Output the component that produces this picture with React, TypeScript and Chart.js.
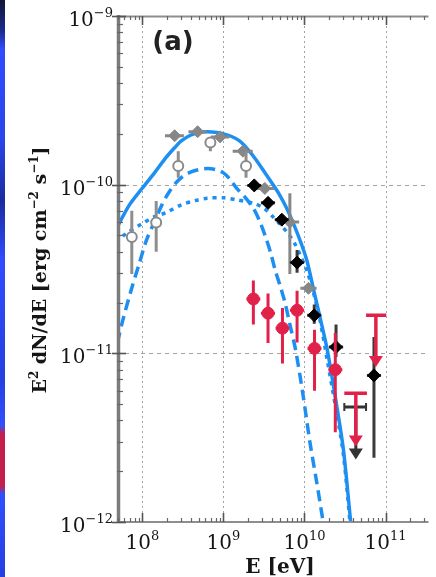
import React, { useEffect, useRef } from "react";
import { Chart, registerables } from "chart.js";

Chart.register(...registerables);

const BLUE = "#1e8ff2";
const RED = "#e2214b";
const GREY = "#878787";

const X_MIN = 4.86e7;
const X_MAX = 3.39e11;
const Y_MIN = 1e-12;
const Y_MAX = 1e-9;

const xTicks = [1e8, 1e9, 1e10, 1e11];
const xTickExp = ["8", "9", "10", "11"];
const yTicks = [1e-9, 1e-10, 1e-11, 1e-12];
const yTickExp = ["\u22129", "\u221210", "\u221211", "\u221212"];

// model curves (E in eV, E^2 dN/dE in erg cm^-2 s^-1)
const totalE = [4.9e7, 6.92e7, 1.0e8, 1.41e8, 1.95e8, 2.51e8, 3.02e8, 3.98e8, 5.01e8, 6.31e8, 8.32e8, 1.0e9, 1.26e9, 1.58e9, 2.0e9, 2.51e9, 3.16e9, 3.98e9, 4.79e9, 6.03e9, 7.59e9, 9.12e9, 1.07e10, 1.32e10, 1.58e10, 1.91e10, 2.4e10, 3.02e10, 3.72e10, 4.07e10];
const totalF = [5.62e-11, 7.59e-11, 9.55e-11, 1.175e-10, 1.445e-10, 1.66e-10, 1.82e-10, 1.97e-10, 2.04e-10, 2.06e-10, 2.04e-10, 2.0e-10, 1.93e-10, 1.82e-10, 1.62e-10, 1.41e-10, 1.2e-10, 1.02e-10, 8.9e-11, 7.24e-11, 5.62e-11, 4.47e-11, 3.55e-11, 2.29e-11, 1.58e-11, 1.05e-11, 5.5e-12, 2.69e-12, 1.0e-12, 7.1e-13];

const dashE = [4.9e7, 5.75e7, 7.41e7, 9.12e7, 1.12e8, 1.38e8, 1.74e8, 2.09e8, 2.57e8, 3.16e8, 3.98e8, 5.01e8, 6.31e8, 7.94e8, 1.0e9, 1.2e9, 1.45e9, 1.82e9, 2.34e9, 2.82e9, 3.31e9, 3.8e9, 4.37e9, 5.01e9, 5.75e9, 6.61e9, 7.76e9, 9.55e9, 1.17e10, 1.41e10, 1.7e10, 1.86e10];
const dashF = [1.15e-11, 1.58e-11, 2.45e-11, 3.39e-11, 4.68e-11, 5.89e-11, 7.59e-11, 8.9e-11, 1.02e-10, 1.12e-10, 1.19e-10, 1.23e-10, 1.245e-10, 1.23e-10, 1.175e-10, 1.08e-10, 9.55e-11, 8.5e-11, 7.24e-11, 6.03e-11, 4.9e-11, 3.98e-11, 3.09e-11, 2.51e-11, 2.0e-11, 1.48e-11, 1.05e-11, 5.75e-12, 2.95e-12, 1.74e-12, 1.0e-12, 7.6e-13];

const dotE = [4.68e7, 6.31e7, 1.0e8, 1.41e8, 1.95e8, 3.02e8, 4.47e8, 6.31e8, 1.02e9, 1.45e9, 2.34e9, 3.16e9, 4.07e9, 5.01e9, 6.31e9, 7.59e9, 8.91e9, 1.07e10, 1.26e10, 1.55e10, 1.91e10, 2.4e10, 3.02e10, 3.72e10];
const dotF = [4.57e-11, 5.13e-11, 5.89e-11, 6.46e-11, 6.82e-11, 7.59e-11, 8.04e-11, 8.32e-11, 8.36e-11, 8.13e-11, 7.76e-11, 7.24e-11, 6.46e-11, 5.82e-11, 5.13e-11, 4.47e-11, 3.8e-11, 3.09e-11, 2.4e-11, 1.58e-11, 9.1e-12, 4.9e-12, 2.51e-12, 8.9e-13];

// grey filled points
const greyE = [2.5e8, 4.8e8, 9.1e8, 1.74e9, 3.24e9, 6.6e9, 1.12e10];
const greyF = [1.95e-10, 2.06e-10, 1.92e-10, 1.58e-10, 9.5e-11, 6.0e-11, 2.43e-11];
const greyElo = [1.9e8, 3.7e8, 7.0e8, 1.3e9, 2.5e9, 5.2e9, 8.9e9];
const greyEhi = [3.25e8, 6.2e8, 1.18e9, 2.3e9, 4.2e9, 8.6e9, 1.41e10];
const greyFlo = [1.95e-10, 2.06e-10, 1.92e-10, 1.58e-10, 9.5e-11, 2.95e-11, 2.43e-11];
const greyFhi = [1.95e-10, 2.06e-10, 1.92e-10, 1.58e-10, 9.5e-11, 8.9e-11, 2.43e-11];

// open circles
const openE = [7.4e7, 1.48e8, 2.77e8, 6.9e8, 1.9e9];
const openF = [4.9e-11, 5.96e-11, 1.29e-10, 1.78e-10, 1.29e-10];
const openFlo = [2.95e-11, 4.0e-11, 1.1e-10, 1.58e-10, 1.1e-10];
const openFhi = [7.0e-11, 8.0e-11, 1.58e-10, 1.9e-10, 1.58e-10];

// black diamonds
const blackE = [2.4e9, 3.55e9, 5.25e9, 8.1e9, 1.32e10, 2.45e10, 7.2e10];
const blackF = [9.9e-11, 7.8e-11, 6.2e-11, 3.45e-11, 1.68e-11, 1.09e-11, 7.4e-12];
const blackElo = [1.97e9, 2.9e9, 4.3e9, 6.6e9, 1.08e10, 2.0e10, 5.9e10];
const blackEhi = [2.93e9, 4.33e9, 6.4e9, 9.9e9, 1.61e10, 3.0e10, 8.8e10];
const blackFlo = [9.4e-11, 7.4e-11, 5.8e-11, 3.0e-11, 1.5e-11, 9.5e-12, 2.4e-12];
const blackFhi = [1.04e-10, 8.2e-11, 6.6e-11, 4.1e-11, 1.95e-11, 1.48e-11, 1.25e-11];
const blackUlE = [4.3e10];
const blackUlF = [4.8e-12];
const blackUlTo = [2.35e-12];
const blackUlElo = [3.1e10];
const blackUlEhi = [5.75e10];

// red circles
const redE = [2.34e9, 3.55e9, 5.35e9, 8.1e9, 1.33e10, 2.4e10];
const redF = [2.1e-11, 1.73e-11, 1.41e-11, 1.8e-11, 1.07e-11, 8.0e-12];
const redElo = [1.92e9, 2.9e9, 4.4e9, 6.6e9, 1.09e10, 1.97e10];
const redEhi = [2.85e9, 4.33e9, 6.5e9, 9.9e9, 1.62e10, 2.93e10];
const redFlo = [1.48e-11, 1.15e-11, 8.7e-12, 1.16e-11, 6.0e-12, 3.4e-12];
const redFhi = [2.7e-11, 2.26e-11, 1.86e-11, 2.35e-11, 1.38e-11, 1.32e-11];
const redUlE = [4.3e10, 7.6e10];
const redUlF = [5.8e-12, 1.68e-11];
const redUlTo = [2.8e-12, 8.3e-12];
const redUlElo = [3.1e10, 5.75e10];
const redUlEhi = [5.9e10, 1.02e11];

const pts = (xs: number[], ys: number[]) => xs.map((x, i) => ({ x, y: ys[i] }));

function seg(ctx: CanvasRenderingContext2D, x1: number, y1: number, x2: number, y2: number) {
  ctx.beginPath();
  ctx.moveTo(x1, y1);
  ctx.lineTo(x2, y2);
  ctx.stroke();
}

type Part = [string, boolean];
function richWidth(ctx: CanvasRenderingContext2D, parts: Part[], base: string, sup: string) {
  let w = 0;
  for (const [t, s] of parts) {
    ctx.font = s ? sup : base;
    w += ctx.measureText(t).width;
  }
  return w;
}
function drawRich(ctx: CanvasRenderingContext2D, parts: Part[], x: number, y: number, base: string, sup: string, rise: number) {
  let cx = x;
  for (const [t, s] of parts) {
    ctx.font = s ? sup : base;
    ctx.fillText(t, cx, s ? y - rise : y);
    cx += ctx.measureText(t).width;
  }
}

const TICK_BASE = '20px "DejaVu Serif"';
const TICK_SUP = '13px "DejaVu Serif"';

const sedPlugin = {
  id: "sedDecor",
  beforeDatasetsDraw(chart: any) {
    const { ctx, chartArea: a } = chart;
    const xs = chart.scales.x;
    const ys = chart.scales.y;
    ctx.save();
    ctx.strokeStyle = "#a3a3a3";
    ctx.lineWidth = 1;
    ctx.setLineDash([2, 3]);
    xTicks.forEach((v) => {
      const px = Math.round(xs.getPixelForValue(v)) + 0.5;
      seg(ctx, px, a.top, px, a.bottom);
    });
    ctx.setLineDash([4, 4]);
    yTicks.forEach((v) => {
      if (v <= Y_MIN || v >= Y_MAX) return;
      const py = Math.round(ys.getPixelForValue(v)) + 0.5;
      seg(ctx, a.left, py, a.right, py);
    });
    ctx.restore();
  },
  beforeDatasetDraw(chart: any, args: any) {
    const ds: any = chart.data.datasets[args.index];
    if (!ds.errorBars && !ds.upperLimits) return;
    const { ctx, chartArea: a } = chart;
    const xs = chart.scales.x;
    const ys = chart.scales.y;
    ctx.save();
    ctx.beginPath();
    ctx.rect(a.left, a.top, a.right - a.left, a.bottom - a.top);
    ctx.clip();
    ctx.setLineDash([]);
    ctx.lineCap = "butt";
    if (ds.errorBars) {
      const eb = ds.errorBars;
      ctx.strokeStyle = eb.color;
      ctx.lineWidth = eb.width;
      ds.data.forEach((p: any, i: number) => {
        const px = xs.getPixelForValue(p.x);
        const py = ys.getPixelForValue(p.y);
        if (eb.xlo) {
          const xl = xs.getPixelForValue(eb.xlo[i]);
          const xh = xs.getPixelForValue(eb.xhi[i]);
          if (xh - xl > 1) seg(ctx, xl, py, xh, py);
        }
        if (eb.ylo) {
          const yl = ys.getPixelForValue(eb.ylo[i]);
          const yh = ys.getPixelForValue(eb.yhi[i]);
          if (yl - yh > 1) seg(ctx, px, yh, px, yl);
        }
      });
    }
    if (ds.upperLimits) {
      const ul = ds.upperLimits;
      ctx.strokeStyle = ul.color;
      ctx.fillStyle = ul.color;
      ctx.lineWidth = ul.width;
      ds.data.forEach((p: any, i: number) => {
        const px = xs.getPixelForValue(p.x);
        const py = ys.getPixelForValue(p.y);
        const xl = xs.getPixelForValue(ul.xlo[i]);
        const xh = xs.getPixelForValue(ul.xhi[i]);
        seg(ctx, xl, py, xh, py);
        if (ul.caps) {
          ctx.lineWidth = 2;
          seg(ctx, xl, py - 4, xl, py + 4);
          seg(ctx, xh, py - 4, xh, py + 4);
          ctx.lineWidth = ul.width;
        }
        const tip = ys.getPixelForValue(ul.to[i]);
        const hh = 11;
        const hw = 7;
        seg(ctx, px, py, px, tip - hh + 1);
        ctx.beginPath();
        ctx.moveTo(px - hw, tip - hh);
        ctx.lineTo(px + hw, tip - hh);
        ctx.lineTo(px, tip);
        ctx.closePath();
        ctx.fill();
      });
    }
    ctx.restore();
  },
  afterDatasetsDraw(chart: any) {
    const { ctx, chartArea: a } = chart;
    const xs = chart.scales.x;
    const ys = chart.scales.y;
    ctx.save();
    ctx.setLineDash([]);
    ctx.lineCap = "butt";
    // frame
    ctx.strokeStyle = "#8e8e8e";
    ctx.lineWidth = 2;
    seg(ctx, a.left, a.top + 0.5, a.right, a.top + 0.5);
    seg(ctx, a.left, a.bottom, a.right, a.bottom);
    ctx.strokeStyle = "#7c7c7c";
    ctx.lineWidth = 3.5;
    seg(ctx, a.left + 1.5, a.top - 1, a.left + 1.5, a.bottom + 1);
    // minor ticks
    ctx.strokeStyle = "#666";
    ctx.lineWidth = 1.2;
    for (let d = -12; d < -9; d++) {
      for (let k = 2; k <= 9; k++) {
        const py = Math.round(ys.getPixelForValue(k * Math.pow(10, d))) + 0.5;
        seg(ctx, a.left, py, a.left + 6, py);
      }
    }
    for (let d = 7; d <= 11; d++) {
      for (let k = 2; k <= 9; k++) {
        const v = k * Math.pow(10, d);
        if (v < X_MIN || v > X_MAX) continue;
        const px = Math.round(xs.getPixelForValue(v)) + 0.5;
        seg(ctx, px, a.bottom, px, a.bottom - 4);
        seg(ctx, px, a.top, px, a.top + 4);
      }
    }
    // major ticks
    ctx.strokeStyle = "#555";
    ctx.lineWidth = 1.6;
    yTicks.forEach((v) => {
      const py = Math.round(ys.getPixelForValue(v)) + 0.5;
      seg(ctx, a.left - 5, py, a.left + 9, py);
    });
    xTicks.forEach((v) => {
      const px = Math.round(xs.getPixelForValue(v)) + 0.5;
      seg(ctx, px, a.bottom, px, a.bottom - 9);
      seg(ctx, px, a.top, px, a.top + 9);
    });
    // tick labels
    ctx.fillStyle = "#151515";
    ctx.textAlign = "left";
    ctx.textBaseline = "alphabetic";
    yTicks.forEach((v, i) => {
      const py = ys.getPixelForValue(v);
      const parts: Part[] = [["10", false], [yTickExp[i], true]];
      const w = richWidth(ctx, parts, TICK_BASE, TICK_SUP);
      drawRich(ctx, parts, a.left - 4 - w, py + 10, TICK_BASE, TICK_SUP, 9);
    });
    xTicks.forEach((v, i) => {
      const px = xs.getPixelForValue(v);
      const parts: Part[] = [["10", false], [xTickExp[i], true]];
      const w = richWidth(ctx, parts, TICK_BASE, TICK_SUP);
      drawRich(ctx, parts, px - w / 2, 549, TICK_BASE, TICK_SUP, 9);
    });
    // x title
    ctx.font = 'bold 20px "DejaVu Serif"';
    ctx.textAlign = "center";
    ctx.fillText("E [eV]", 280, 573);
    // y title
    const tb = 'bold 19px "DejaVu Serif"';
    const ts = 'bold 12px "DejaVu Serif"';
    const tparts: Part[] = [
      ["E", false],
      ["2", true],
      [" dN/dE [erg cm", false],
      ["\u22122", true],
      [" s", false],
      ["\u22121", true],
      ["]", false],
    ];
    ctx.textAlign = "left";
    const tw = richWidth(ctx, tparts, tb, ts);
    ctx.save();
    ctx.translate(46, 270);
    ctx.rotate(-Math.PI / 2);
    drawRich(ctx, tparts, -tw / 2, 0, tb, ts, 8);
    ctx.restore();
    // panel label
    ctx.fillStyle = "#222";
    ctx.font = 'bold 26px "DejaVu Sans"';
    ctx.textAlign = "center";
    ctx.textBaseline = "middle";
    ctx.fillText("(a)", 173, 43);
    ctx.restore();
  },
};

export default function App() {
  const ref = useRef<HTMLCanvasElement>(null);
  useEffect(() => {
    const curve = (label: string, xs: number[], ys: number[], dash: number[], order: number) => ({
      label,
      data: pts(xs, ys),
      showLine: true,
      borderColor: BLUE,
      backgroundColor: BLUE,
      borderWidth: 3.5,
      borderDash: dash,
      borderCapStyle: "butt",
      pointRadius: 0,
      pointHoverRadius: 0,
      tension: 0.3,
      order,
      clip: 0,
    });
    const chart = new Chart(ref.current as HTMLCanvasElement, {
      type: "scatter",
      data: {
        datasets: [
          curve("Total", totalE, totalF, [], 12),
          curve("Component 1", dashE, dashF, [11, 6], 11),
          curve("Component 2", dotE, dotF, [4, 5], 10),
          {
            label: "Grey",
            data: pts(greyE, greyF),
            pointStyle: "rectRot",
            pointRadius: 6,
            backgroundColor: GREY,
            borderColor: GREY,
            borderWidth: 1,
            order: 6,
            errorBars: { xlo: greyElo, xhi: greyEhi, ylo: greyFlo, yhi: greyFhi, color: GREY, width: 3 },
          } as any,
          {
            label: "Open",
            data: pts(openE, openF),
            pointStyle: "circle",
            pointRadius: 5,
            backgroundColor: "#ffffff",
            borderColor: "#8a8a8a",
            borderWidth: 2,
            order: 5,
            errorBars: { ylo: openFlo, yhi: openFhi, color: "#8e8e8e", width: 3 },
          } as any,
          {
            label: "Black UL",
            data: pts(blackUlE, blackUlF),
            pointRadius: 0,
            order: 4,
            upperLimits: { xlo: blackUlElo, xhi: blackUlEhi, to: blackUlTo, color: "#333", width: 3, caps: true },
          } as any,
          {
            label: "Black",
            data: pts(blackE, blackF),
            pointStyle: "rectRot",
            pointRadius: 6.5,
            backgroundColor: "#000",
            borderColor: "#000",
            borderWidth: 1,
            order: 3,
            errorBars: { xlo: blackElo, xhi: blackEhi, ylo: blackFlo, yhi: blackFhi, color: "#3a3a3a", width: 3 },
          } as any,
          {
            label: "Red UL",
            data: pts(redUlE, redUlF),
            pointRadius: 0,
            order: 2,
            upperLimits: { xlo: redUlElo, xhi: redUlEhi, to: redUlTo, color: RED, width: 3.5, caps: false },
          } as any,
          {
            label: "Red",
            data: pts(redE, redF),
            pointStyle: "circle",
            pointRadius: 6,
            backgroundColor: RED,
            borderColor: RED,
            borderWidth: 1,
            order: 1,
            errorBars: { xlo: redElo, xhi: redEhi, ylo: redFlo, yhi: redFhi, color: RED, width: 3 },
          } as any,
        ],
      },
      options: {
        responsive: false,
        animation: false,
        devicePixelRatio: 1,
        layout: { padding: { left: 117, right: 0, top: 16, bottom: 55 } },
        scales: {
          x: { type: "logarithmic", min: X_MIN, max: X_MAX, display: false },
          y: { type: "logarithmic", min: Y_MIN, max: Y_MAX, display: false },
        },
        plugins: { legend: { display: false }, tooltip: { enabled: false } },
        events: [],
      },
      plugins: [sedPlugin as any],
    } as any);
    return () => chart.destroy();
  }, []);

  const strip =
    "linear-gradient(to bottom, #121538 0px, #1b2a8c 30px, #2f4dff 50px, #2846ea 140px, #1c2c9e 200px, #2f4dff 260px, #2440e0 380px, #3050ff 425px, #c41f4c 434px, #c41f4c 486px, #3050ff 494px, #2440e0 577px)";

  return (
    <div style={{ position: "fixed", left: 0, top: 0, width: 436, height: 577, background: "#ffffff", overflow: "hidden" }}>
      <canvas ref={ref} width={436} height={577} style={{ position: "absolute", left: 0, top: 0, display: "block" }} />
      <div style={{ position: "absolute", left: 0, top: 0, width: 5, height: 577, background: strip }} />
    </div>
  );
}
